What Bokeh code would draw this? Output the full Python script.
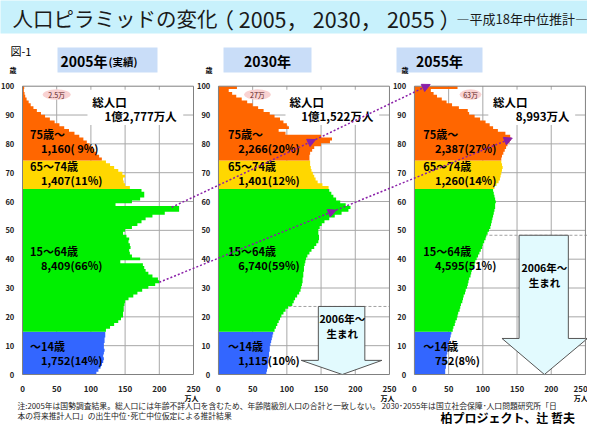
import numpy as np
from bokeh.plotting import figure
from bokeh.models import Range1d, Arrow, NormalHead
from bokeh.core.properties import value
from bokeh.embed import file_html
from bokeh.resources import INLINE

FONT = "Noto Sans CJK JP"

# ---------------- data ----------------
years = ["2005", "2030", "2055"]
ages = list(range(101))  # 100 = 100歳以上

pop_2005 = ([108, 111, 114, 116, 118, 119, 118, 119, 120, 119, 119, 120, 120, 121, 121] +
            [122, 128, 134, 140, 144, 147, 147, 148, 148, 149, 150, 155, 162, 168, 175,
             184, 194, 200, 198, 190, 184, 180, 178, 176, 143, 172, 160, 157, 156, 158,
             157, 155, 156, 152, 147, 150, 160, 168, 174, 180, 190, 208, 229, 229, 136,
             160, 172, 178, 178, 174] +
            [157, 150, 148, 147, 150, 146, 140, 134, 128, 122] +
            [116, 112, 108, 105, 103, 98, 94, 89, 83, 76, 68, 61, 54, 47, 40, 33, 27, 21,
             16, 12, 9, 6, 4, 3, 2, 2.5])
pop_2030 = ([70, 71, 72, 72, 73, 73, 74, 74, 75, 75, 76, 77, 78, 79, 80] +
            [82, 84, 86, 88, 90, 92, 95, 98, 102, 108, 110, 112, 115, 118, 120,
             121, 122, 123, 123, 124, 124, 125, 125, 126, 127, 128, 130, 133, 136, 140,
             143, 146, 147, 147, 146, 146, 148, 151, 155, 162, 170, 180, 190, 193, 186,
             178, 172, 168, 165, 162] +
            [161, 152, 145, 142, 140, 138, 136, 135, 134, 134] +
            [133, 133, 134, 137, 140, 150, 163, 166, 150, 98, 88, 103, 100, 95, 90, 82,
             75, 66, 58, 50, 42, 34, 26, 20, 15, 27])
pop_2055 = ([45, 45, 46, 46, 46, 47, 47, 48, 49, 49, 50, 51, 52, 53, 54] +
            [56, 57, 59, 60, 62, 63, 64, 66, 67, 68, 70, 71, 72, 74, 75,
             77, 78, 79, 80, 82, 83, 84, 86, 88, 89, 91, 93, 95, 97, 99,
             100, 102, 104, 105, 107, 109, 111, 112, 113, 114, 115, 116, 117, 118, 118,
             119, 118, 117, 116, 115] +
            [117, 120, 123, 125, 126, 127, 128, 129, 128, 127] +
            [127, 128, 130, 132, 134, 136, 139, 141, 140, 133, 122, 115, 110, 104, 96, 88,
             80, 78, 65, 55, 47, 40, 33, 28, 24, 63])
populations = [pop_2005, pop_2030, pop_2055]

group_bounds = [0, 15, 65, 75, 101]
group_names = ["～14歳", "15～64歳", "65～74歳", "75歳～"]
group_colors = ["#3366FF", "#00F000", "#FFD700", "#FF6600"]
group_values = [
    ["1,752(14%)", "8,409(66%)", "1,407(11%)", "1,160( 9%)"],
    ["1,115(10%)", "6,740(59%)", "1,401(12%)", "2,266(20%)"],
    ["752(8%)", "4,595(51%)", "1,260(14%)", "2,387(27%)"],
]
total_labels = ["1億2,777万人", "1億1,522万人", "8,993万人"]
centenarian_labels = ["2.5万", "27万", "63万"]
panel_titles = ["2005年", "2030年", "2055年"]
x_ticks = [0, 50, 100, 150, 200, 250]
y_ticks = [0, 10, 20, 30, 40, 50, 60, 70, 80, 90, 100]
footnote1 = "注:2005年は国勢調査結果。総人口には年齢不詳人口を含むため、年齢階級別人口の合計と一致しない。 2030･2055年は国立社会保障･人口問題研究所「日"
footnote2 = "本の将来推計人口」の出生中位･死亡中位仮定による推計結果"
signature = "柏プロジェクト、辻 哲夫"

# ---------------- layout ----------------
W, H = 587, 428
PXX, PXY = 0.684, 2.883
OFF = [0, 286.5, 573]
X0 = -22 / PXX
X1 = X0 + W / PXX
Y1 = 374 / PXY
Y0 = Y1 - H / PXY


def gx(X):
    return X0 + X / PXX


def gy(Y):
    return Y1 - Y / PXY


p = figure(width=W, height=H, x_range=Range1d(X0, X1), y_range=Range1d(Y0, Y1),
           output_backend="svg", toolbar_location=None,
           x_axis_location=None, y_axis_location=None,
           min_border_left=0, min_border_right=0, min_border_top=0, min_border_bottom=0)
p.outline_line_color = None
p.grid.visible = False
p.background_fill_color = "white"
p.border_fill_color = "white"


def txt(xs, ys, texts, size, bold=False, align="left", color="#000000", baseline="middle"):
    p.text(x=xs, y=ys, text=texts, text_font=value(FONT), text_font_size=size,
           text_font_style="bold" if bold else "normal", text_align=align,
           text_baseline=baseline, text_color=color)


# title band
p.quad(left=[gx(-5)], right=[gx(600)], bottom=[gy(33)], top=[gy(-5)],
       fill_color="#C8F1FC", line_color=None)
txt([gx(12)], [gy(17)], ["人口ピラミッドの変化"], "20.5px", color="#1a1a1a")
txt([gx(212)], [gy(17.5)], ["（ 2005， 2030， 2055 ）"], "21.5px", color="#1a1a1a")
txt([gx(456)], [gy(18)], ["―平成18年中位推計―"], "13px", color="#1a1a1a")
txt([gx(10)], [gy(50)], ["図-1"], "11px")

# header boxes
hb_left = [57, 223, 396]
hb_right = [157, 311, 482]
p.quad(left=[gx(v) for v in hb_left], right=[gx(v) for v in hb_right],
       bottom=[gy(72)] * 3, top=[gy(47)] * 3, fill_color="#C9DDF8", line_color=None)
txt([gx(60)], [gy(60)], [panel_titles[0]], "14px", bold=True)
txt([gx(108)], [gy(61)], ["(実績)"], "10.5px", bold=True)
txt([gx(267), gx(439)], [gy(60)] * 2, panel_titles[1:], "14px", bold=True, align="center")

# grid
gx0, gy0, gx1, gy1 = [], [], [], []
for off in OFF:
    for t in x_ticks[1:-1]:
        gx0.append(off + t); gx1.append(off + t); gy0.append(0); gy1.append(100)
    for t in y_ticks[1:-1]:
        gx0.append(off); gx1.append(off + 250); gy0.append(t); gy1.append(t)
p.segment(x0=gx0, y0=gy0, x1=gx1, y1=gy1, line_color="#A8A8A8", line_width=1)

# dashed cohort lines (2006年～生まれ)
p.segment(x0=[OFF[1], OFF[2]], y0=[23.6, 48.3], x1=[OFF[1] + 250, OFF[2] + 262],
          y1=[23.6, 48.3], line_color="#A0A0A0", line_dash="3 2", line_width=1)

# white boxes behind total text
box_l = [95, 98, 108]
p.quad(left=[OFF[k] + box_l[k] for k in range(3)], right=[OFF[k] + 235 for k in range(3)],
       bottom=[86.5] * 3, top=[98.8] * 3, fill_color="white", line_color=None)

# down arrows "2006年～生まれ"
arrows = [  # L, R, T, B, HL, HR, TX
    (146, 214, 23.6, 4.9, 121, 239, 181),
    (153, 225, 48.3, 12.5, 128, 253, 190),
]
xs, ys = [], []
for k, (L, R, T, B, HL, HR, TX) in zip([1, 2], arrows):
    o = OFF[k]
    xs.append([o + L, o + R, o + R, o + HR, o + TX, o + HL, o + L])
    ys.append([T, T, B, B, 0, B, B])
p.patches(xs=xs, ys=ys, fill_color="#E2FAFE", line_color="#555555", line_width=1)
txt([OFF[1] + 181, OFF[1] + 181, OFF[2] + 190, OFF[2] + 190], [19.3, 14.2, 37.2, 32.0],
    ["2006年～", "生まれ", "2006年～", "生まれ"], "10.5px", bold=True, align="center")

# bars: one stepped outline per age group, from the single-year values
pxs, pys, pcols = [], [], []
for k in range(3):
    vals = populations[k]
    for g in range(4):
        s, e = group_bounds[g], group_bounds[g + 1]
        bx, by = [OFF[k]], [s * 100 / 101]
        for a in range(s, e):
            bx += [OFF[k] + vals[a], OFF[k] + vals[a]]
            by += [a * 100 / 101, (a + 1) * 100 / 101]
        bx.append(OFF[k]); by.append(e * 100 / 101)
        pxs.append(bx); pys.append(by); pcols.append(group_colors[g])
p.patches(xs=pxs, ys=pys, fill_color=pcols, line_color=None)

# frames
p.quad(left=OFF, right=[o + 250 for o in OFF], bottom=[0] * 3, top=[100] * 3,
       fill_color=None, line_color="#808080", line_width=1)

# centenarian bubbles
bub_x = [50, 57, 82]
bub_w = [41, 39, 32]
p.ellipse(x=[OFF[k] + bub_x[k] for k in range(3)], y=[97.1] * 3, width=bub_w, height=[3.6] * 3,
          fill_color="#F9D2D2", line_color=None)
txt([OFF[k] + bub_x[k] for k in range(3)], [97.0] * 3, centenarian_labels, "7px",
    align="center", color="#5a2020")

# group labels
name_y = [9.8, 42.7, 72.3, 83.5]
val_y = [5.2, 38.1, 67.5, 78.6]
name_x = [11, 14, 13]
val_x = [27, 29, 30]
for k in range(3):
    txt([OFF[k] + name_x[k]] * 4, name_y, group_names, "11px", bold=True)
    txt([OFF[k] + val_x[k]] * 4, val_y, group_values[k], "11px", bold=True)

# totals
tot1_x = [102, 104, 115]
tot2_x = [120, 121, 148]
txt([OFF[k] + tot1_x[k] for k in range(3)], [94.5] * 3, ["総人口"] * 3, "11.5px", bold=True)
txt([OFF[k] + tot2_x[k] for k in range(3)], [89.8] * 3, total_labels, "11.5px", bold=True)

# axis labels (per panel)
for k in range(3):
    txt([OFF[k] - 12] * len(y_ticks), y_ticks, [str(t) for t in y_ticks], "7.5px",
        bold=True, align="right", color="#222222")
    xl = [min(OFF[k] + t, X1 - 10) for t in x_ticks]
    txt(xl, [gy(388)] * len(x_ticks), [str(t) for t in x_ticks],
        "8px", bold=True, align="center", color="#222222")
txt([o - 19 for o in OFF], [gy(69)] * 3, ["歳"] * 3, "7px", bold=True)
txt([min(o + 247, X1 - 10) for o in OFF], [gy(397)] * 3, ["万人"] * 3, "7px", bold=True,
    align="center")

# cohort arrows (purple dotted)
PURPLE = "#8A1FA8"
cohorts = [  # (panel, x, age) start -> end
    ((0, 218, 58.0), (1, 142, 81.5)),
    ((1, 142, 81.5), (2, 23, 100.6)),
    ((0, 200, 32.0), (1, 172, 57.0)),
    ((1, 172, 57.0), (2, 143, 82.0)),
]
for (k0, x0, a0), (k1, x1, a1) in cohorts:
    p.add_layout(Arrow(end=NormalHead(size=8, fill_color=PURPLE, line_color=PURPLE),
                       x_start=OFF[k0] + x0, y_start=a0, x_end=OFF[k1] + x1, y_end=a1,
                       line_color=PURPLE, line_width=1.5, line_dash="2 2"))

# footnotes and credit
txt([gx(17)], [gy(405)], [footnote1], "7.8px", color="#222222")
txt([gx(17)], [gy(415)], [footnote2], "7.8px", color="#222222")
txt([gx(440)], [gy(416.5)], [signature], "12px", bold=True)

open("out.html", "w").write(file_html(p, INLINE))
